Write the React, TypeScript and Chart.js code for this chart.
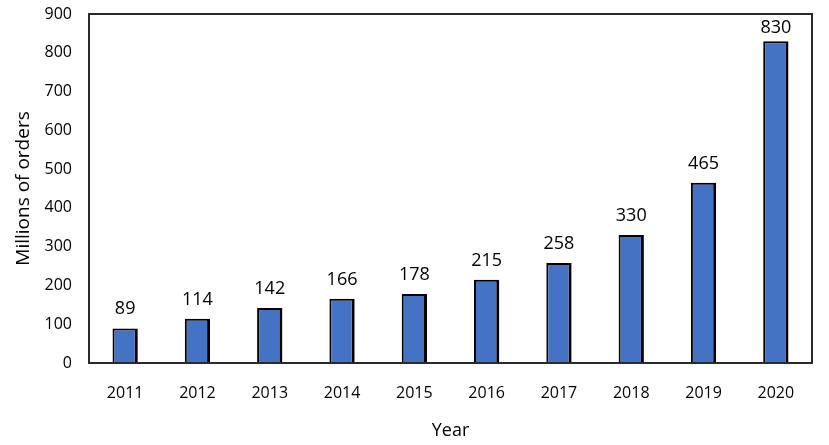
import React, { useEffect, useRef } from "react";
import { Chart, registerables } from "chart.js";

Chart.register(...registerables);

const years = ["2011", "2012", "2013", "2014", "2015", "2016", "2017", "2018", "2019", "2020"];
const orders = [89, 114, 142, 166, 178, 215, 258, 330, 465, 830];
const yTicks = [0, 100, 200, 300, 400, 500, 600, 700, 800, 900];

const FONT = "'Open Sans', sans-serif";

const frameAndLabels = {
  id: "frameAndLabels",
  afterDatasetsDraw(chart: any) {
    const ctx = chart.ctx;
    const a = chart.chartArea;
    ctx.save();
    ctx.strokeStyle = "#2b2b2b";
    ctx.lineWidth = 2;
    ctx.strokeRect(a.left, a.top, a.right - a.left, a.bottom - a.top);
    const meta = chart.getDatasetMeta(0);
    ctx.fillStyle = "#000";
    ctx.font = `18px ${FONT}`;
    ctx.textAlign = "center";
    ctx.textBaseline = "alphabetic";
    meta.data.forEach((bar: any, i: number) => {
      const y = Math.max(bar.y - 14, a.top + 19);
      ctx.fillText(String(orders[i]), bar.x, y);
    });
    ctx.restore();
  },
};

export default function App() {
  const ref = useRef<HTMLCanvasElement>(null);
  useEffect(() => {
    const chart = new Chart(ref.current!, {
      type: "bar",
      data: {
        labels: years,
        datasets: [
          {
            data: orders,
            backgroundColor: "#4472C4",
            borderColor: "#000000",
            borderWidth: { top: 2, left: 2, right: 3, bottom: 0 },
            borderSkipped: false,
            barPercentage: 0.35,
            categoryPercentage: 1,
          },
        ],
      },
      options: {
        responsive: false,
        animation: false,
        layout: { padding: { top: 14, right: 17, left: 0, bottom: 0 } },
        plugins: { legend: { display: false }, tooltip: { enabled: false } },
        scales: {
          x: {
            grid: { display: false, drawTicks: false },
            border: { display: false },
            ticks: { color: "#000", font: { family: FONT, size: 16 }, padding: 21, maxRotation: 0 },
            title: { display: true, text: "Year", color: "#000", font: { family: FONT, size: 18 }, padding: { top: 0, bottom: 3 } },
            afterFit(scale: any) {
              scale.height = 82;
              scale.paddingLeft = 0;
              scale.paddingRight = 0;
            },
          },
          y: {
            min: 0,
            max: 900,
            afterBuildTicks(scale: any) {
              scale.ticks = yTicks.map((v) => ({ value: v }));
            },
            grid: { display: false, drawTicks: false },
            border: { display: false },
            ticks: { color: "#000", font: { family: FONT, size: 16 }, padding: 17 },
            title: { display: true, text: "Millions of orders", color: "#000", font: { family: FONT, size: 19 }, padding: { top: 12, bottom: 0 } },
            afterFit(scale: any) {
              scale.width = 89;
              scale.paddingTop = 0;
              scale.paddingBottom = 0;
            },
          },
        },
      },
      plugins: [frameAndLabels],
    });
    return () => chart.destroy();
  }, []);
  return (
    <div style={{ position: "absolute", left: 0, top: 0, width: 829, height: 445, background: "#fff" }}>
      <canvas ref={ref} width={829} height={445} />
    </div>
  );
}
